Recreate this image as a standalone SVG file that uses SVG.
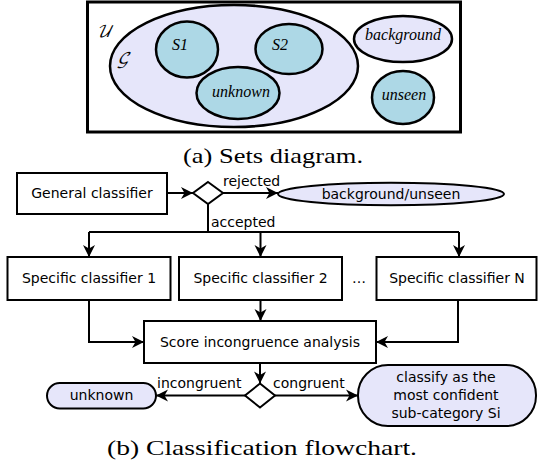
<svg xmlns="http://www.w3.org/2000/svg" width="538" height="464" viewBox="0 0 538 464">
<style>
.frame{fill:#fff;stroke:#000;stroke-width:3}
.setL{fill:#e6e6fa;stroke:#000;stroke-width:2.5}
.setC{fill:#add8e6;stroke:#000;stroke-width:2.5}
.it{font-family:"Liberation Serif",serif;font-style:italic;font-size:16px;fill:#000;text-anchor:middle}
.scr{font-family:"DejaVu Math TeX Gyre","Liberation Serif",serif;font-style:italic;font-size:16px;fill:#000}
.cap{font-family:"Liberation Serif","DejaVu Serif",serif;font-size:21px;fill:#000;text-anchor:middle}
.box{fill:#fff;stroke:#000;stroke-width:2}
.term{fill:#e6e6fa;stroke:#000;stroke-width:2}
.t{font-family:"DejaVu Sans",sans-serif;font-size:14px;fill:#000;text-anchor:middle}
.lbl{font-family:"DejaVu Sans",sans-serif;font-size:14px;fill:#000}
.ln{fill:none;stroke:#000;stroke-width:2}
.ar{fill:none;stroke:#000;stroke-width:2;marker-end:url(#ah)}
</style>
<defs>
<marker id="ah" viewBox="-13 -7 14 14" markerWidth="14" markerHeight="14" refX="0" refY="0" orient="auto" markerUnits="userSpaceOnUse">
<path d="M0,0 L-12,-6 L-8.5,0 L-12,6 Z" fill="#000"/>
</marker>
</defs>
<g id="sets">
<rect class="frame" x="87.5" y="2" width="373" height="130"/>
<text class="scr" x="96" y="37">𝒰</text>
<g id="setG"><ellipse class="setL" cx="234" cy="66" rx="124" ry="61"/><text class="scr" x="117" y="64">𝒢</text></g>
<g id="setS1"><ellipse class="setC" cx="187" cy="49.5" rx="31" ry="28"/><text class="it" x="180" y="50">S1</text></g>
<g id="setS2"><ellipse class="setC" cx="289" cy="49" rx="33.5" ry="25"/><text class="it" x="280" y="50">S2</text></g>
<g id="setUnknown"><ellipse class="setC" cx="238" cy="93" rx="41.5" ry="26"/><text class="it" x="241" y="97">unknown</text></g>
<g id="setBackground"><ellipse class="setL" cx="403" cy="39" rx="49" ry="23"/><text class="it" x="403" y="40">background</text></g>
<g id="setUnseen"><ellipse class="setC" cx="403" cy="97.5" rx="31" ry="26.5"/><text class="it" x="404" y="100">unseen</text></g>
</g>
<text class="cap" x="273" y="163" textLength="180" lengthAdjust="spacingAndGlyphs">(a) Sets diagram.</text>
<g id="connectors">
<line class="ar" x1="167" y1="193" x2="193" y2="193"/>
<line class="ar" x1="223" y1="193" x2="278" y2="193"/>
<polyline class="ln" points="208,204 208,232"/>
<line class="ln" x1="89" y1="232" x2="459" y2="232"/>
<line class="ar" x1="89" y1="232" x2="89" y2="257"/>
<line class="ar" x1="260.5" y1="232" x2="260.5" y2="257"/>
<line class="ar" x1="459" y1="232" x2="459" y2="257"/>
<line class="ar" x1="260.5" y1="300" x2="260.5" y2="321"/>
<polyline class="ar" points="89,300 89,342 144,342"/>
<polyline class="ar" points="458,300 458,342 376,342"/>
<line class="ar" x1="260" y1="363" x2="260" y2="383.5"/>
<line class="ar" x1="245" y1="395.5" x2="156" y2="395.5"/>
<line class="ar" x1="275" y1="395.5" x2="358" y2="395.5"/>
<text class="lbl" x="223" y="186">rejected</text>
<text class="lbl" x="211" y="227">accepted</text>
<text class="lbl" x="157" y="388">incongruent</text>
<text class="lbl" x="273" y="388">congruent</text>
</g>
<g id="general"><rect class="box" x="17" y="173" width="150" height="41"/><text class="t" x="92" y="198">General classifier</text></g>
<g id="decision1"><polygon class="box" points="208,182 223,193 208,204 193,193"/></g>
<g id="bgUnseen"><ellipse class="term" cx="391" cy="194" rx="113" ry="11.3"/><text class="t" x="391" y="199">background/unseen</text></g>
<g id="spec1"><rect class="box" x="7.5" y="257" width="163" height="43"/><text class="t" x="89" y="283">Specific classifier 1</text></g>
<g id="spec2"><rect class="box" x="179" y="257" width="163" height="43"/><text class="t" x="260.5" y="283">Specific classifier 2</text></g>
<text class="t" x="359" y="283">…</text>
<g id="specN"><rect class="box" x="376.5" y="257" width="160" height="43"/><text class="t" x="457" y="283">Specific classifier N</text></g>
<g id="score"><rect class="box" x="144" y="321" width="232" height="42"/><text class="t" x="260" y="347">Score incongruence analysis</text></g>
<g id="decision2"><polygon class="box" points="260,383.5 275,395.5 260,407.5 245,395.5"/></g>
<g id="unknownOut"><rect class="term" x="47" y="383" width="109" height="25.5" rx="12.75"/><text class="t" x="101.5" y="400">unknown</text></g>
<g id="classifyOut"><rect class="term" x="358" y="365" width="178" height="61" rx="30"/><text class="t" x="446" y="382">classify as the</text><text class="t" x="446" y="400">most confident</text><text class="t" x="446" y="418">sub-category Si</text></g>
<text class="cap" x="262" y="455" textLength="310" lengthAdjust="spacingAndGlyphs">(b) Classification flowchart.</text>
</svg>
